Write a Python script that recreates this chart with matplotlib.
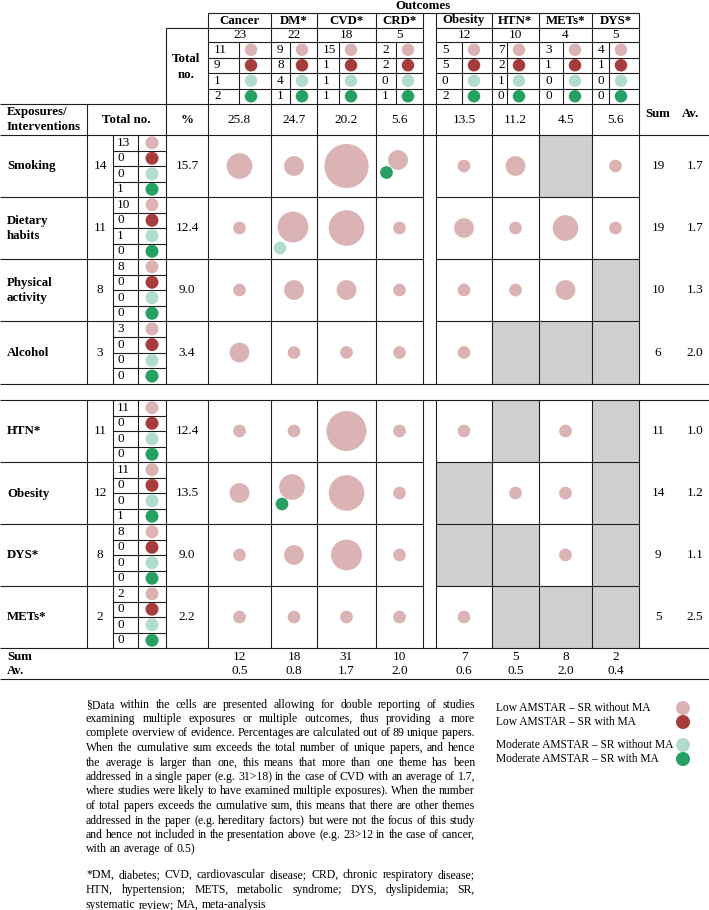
import matplotlib
matplotlib.use('Agg')
import matplotlib.pyplot as plt
from matplotlib.patches import Circle, Rectangle
import numpy as np

plt.rcParams['font.family'] = ['Liberation Serif', 'DejaVu Serif']

# ---------------- data ----------------
outcomes = ['Cancer', 'DM*', 'CVD*', 'CRD*', 'Obesity', 'HTN*', 'METs*', 'DYS*']
outcome_totals = [23, 22, 18, 5, 12, 10, 4, 5]
outcome_low_noma = [11, 9, 15, 2, 5, 7, 3, 4]
outcome_low_ma = [9, 8, 1, 2, 5, 2, 1, 1]
outcome_mod_noma = [1, 4, 1, 0, 0, 1, 0, 0]
outcome_mod_ma = [2, 1, 1, 1, 2, 0, 0, 0]
outcome_pct = ['25.8', '24.7', '20.2', '5.6', '13.5', '11.2', '4.5', '5.6']
col_sum = [12, 18, 31, 10, 7, 5, 8, 2]
col_av = ['0.5', '0.8', '1.7', '2.0', '0.6', '0.5', '2.0', '0.4']

exposures = ['Smoking', 'Dietary\nhabits', 'Physical\nactivity', 'Alcohol',
             'HTN*', 'Obesity', 'DYS*', 'METs*']
exposure_totals = [14, 11, 8, 3, 11, 12, 8, 2]
exposure_low_noma = [13, 10, 8, 3, 11, 11, 8, 2]
exposure_low_ma = [0, 0, 0, 0, 0, 0, 0, 0]
exposure_mod_noma = [0, 1, 0, 0, 0, 0, 0, 0]
exposure_mod_ma = [1, 0, 0, 0, 0, 1, 0, 0]
exposure_pct = ['15.7', '12.4', '9.0', '3.4', '12.4', '13.5', '9.0', '2.2']
row_sum = [19, 19, 10, 6, 11, 14, 9, 5]
row_av = ['1.7', '1.7', '1.3', '2.0', '1.0', '1.2', '1.1', '2.5']

N = np.nan  # not applicable (grey cell)
# counts per exposure (rows) x outcome (columns)
cell_low_noma = [
    [3, 2, 7, 2, 1, 2, N, 1],
    [1, 4, 5, 1, 2, 1, 3, 1],
    [1, 2, 2, 1, 1, 1, 2, N],
    [2, 1, 1, 1, 1, N, N, N],
    [1, 1, 6, 1, 1, N, 1, N],
    [2, 3, 5, 1, N, 1, 1, N],
    [1, 2, 4, 1, N, N, 1, N],
    [1, 1, 1, 1, 1, N, N, N],
]
cell_mod_noma = [
    [0, 0, 0, 0, 0, 0, 0, 0],
    [0, 1, 0, 0, 0, 0, 0, 0],
    [0, 0, 0, 0, 0, 0, 0, 0],
    [0, 0, 0, 0, 0, 0, 0, 0],
    [0, 0, 0, 0, 0, 0, 0, 0],
    [0, 0, 0, 0, 0, 0, 0, 0],
    [0, 0, 0, 0, 0, 0, 0, 0],
    [0, 0, 0, 0, 0, 0, 0, 0],
]
cell_mod_ma = [
    [0, 0, 0, 1, 0, 0, 0, 0],
    [0, 0, 0, 0, 0, 0, 0, 0],
    [0, 0, 0, 0, 0, 0, 0, 0],
    [0, 0, 0, 0, 0, 0, 0, 0],
    [0, 0, 0, 0, 0, 0, 0, 0],
    [0, 1, 0, 0, 0, 0, 0, 0],
    [0, 0, 0, 0, 0, 0, 0, 0],
    [0, 0, 0, 0, 0, 0, 0, 0],
]

legend_labels = ['Low AMSTAR \u2013 SR without MA', 'Low AMSTAR \u2013 SR with MA',
                 'Moderate AMSTAR \u2013 SR without MA', 'Moderate AMSTAR \u2013 SR with MA']

note1 = [
    "\u00a7Data within the cells are presented allowing for double reporting of studies",
    "examining multiple exposures or multiple outcomes, thus providing a more",
    "complete overview of evidence. Percentages are calculated out of 89 unique papers.",
    "When the cumulative sum exceeds the total number of unique papers, and hence",
    "the average is larger than one, this means that more than one theme has been",
    "addressed in a single paper (e.g. 31>18) in the case of CVD with an average of 1.7,",
    "where studies were likely to have examined multiple exposures). When the number",
    "of total papers exceeds the cumulative sum, this means that there are other themes",
    "addressed in the paper (e.g. hereditary factors) but were not the focus of this study",
    "and hence not included in the presentation above (e.g. 23>12 in the case of cancer,",
    "with an average of 0.5)",
]
note2 = [
    "*DM, diabetes; CVD, cardiovascular disease; CRD, chronic respiratory disease;",
    "HTN, hypertension; METS, metabolic syndrome; DYS, dyslipidemia; SR,",
    "systematic review; MA, meta-analysis",
]

# ---------------- style / layout ----------------
C_LOW = '#dcb3b5'
C_LOWMA = '#a63d3c'
C_MOD = '#b2dccd'
C_MODMA = '#27a163'
C_GREY = '#cfcfcf'
LC = '#1e1e1e'
LW = 0.8
dot_colors = [C_LOW, C_LOWMA, C_MOD, C_MODMA]

W, H = 709, 910
fig = plt.figure(figsize=(W / 100, H / 100), dpi=100)
ax = fig.add_axes([0, 0, 1, 1])
ax.set_xlim(0, W)
ax.set_ylim(H, 0)
ax.axis('off')

FS_B = 9.3
FS_N = 9.5

ox0 = [208, 271, 317, 376, 436, 492, 539, 592]
ox1 = [271, 317, 376, 423, 492, 539, 592, 639]
odiv = [239, 290, 339, 396, 462, 507, 563, 609]
ry0 = [135, 197, 259, 321, 400, 462, 524, 586]
ry1 = [197, 259, 321, 384, 462, 524, 586, 648]
hdr_rows = [42, 57.5, 73, 88.5, 104]
secondary_offsets = {(0, 3): ((-1.5, -6), (-13, 6.5)),
                     (1, 1): ((-1, -1), (-14, 20)),
                     (5, 1): ((-2, -6), (-12, 11))}


def hline(y, x0, x1, **kw):
    ax.plot([x0, x1], [y, y], color=LC, lw=LW, solid_capstyle='butt', **kw)


def vline(x, y0, y1, **kw):
    ax.plot([x, x], [y0, y1], color=LC, lw=LW, solid_capstyle='butt', **kw)


def txt(x, y, s, fs=FS_N, bold=False, ha='center', va='center', **kw):
    return ax.text(x, y, s, fontsize=fs, fontweight='bold' if bold else 'normal',
                   ha=ha, va=va, color='black', **kw)


def dot(x, y, d, c):
    ax.add_patch(Circle((x, y), d / 2, facecolor=c, edgecolor='none', zorder=3))


def bubble_d(n):
    return 12.7 * n ** 0.64


# grey cells
for i in range(len(exposures)):
    for j in range(len(outcomes)):
        if np.isnan(cell_low_noma[i][j]):
            ax.add_patch(Rectangle((ox0[j], ry0[i]), ox1[j] - ox0[j], ry1[i] - ry0[i],
                                   facecolor=C_GREY, edgecolor='none', zorder=0))

# ---------------- header ----------------
txt(423, 6, 'Outcomes', fs=FS_B, bold=True)
hline(13, 208, 423)
hline(13, 423, 436)
hline(13, 436, 639)
for y in [28] + hdr_rows[:-1]:
    hline(y, 208, 423)
    hline(y, 436, 639)
hline(28, 165.5, 208)
hline(104, 0, 639)
for x in ox0 + [423, 639]:
    vline(x, 13, 384)
    vline(x, 400, 648)
for x in odiv:
    vline(x, 42, 104)
vline(165.5, 28, 384)
vline(165.5, 400, 648)
txt(186.5, 59, 'Total', fs=FS_B, bold=True)
txt(186.5, 75, 'no.', fs=FS_B, bold=True)

hdr_series = [outcome_low_noma, outcome_low_ma, outcome_mod_noma, outcome_mod_ma]
for j, name in enumerate(outcomes):
    cx = (ox0[j] + ox1[j]) / 2
    txt(cx, 20.5, name, fs=FS_B, bold=True)
    txt(cx, 35, str(outcome_totals[j]))
    for k, ser in enumerate(hdr_series):
        yc = (hdr_rows[k] + hdr_rows[k + 1]) / 2
        txt(ox0[j] + 6, yc, str(ser[j]), ha='left')
        dot(odiv[j] + 12, yc, 12.5, dot_colors[k])
    txt(cx, 120, outcome_pct[j])

# exposures header row
txt(7, 112.5, 'Exposures/', fs=FS_B, bold=True, ha='left')
txt(7, 127.5, 'Interventions', fs=FS_B, bold=True, ha='left')
txt(126.5, 120, 'Total no.', fs=FS_B, bold=True)
txt(187, 120, '%', fs=FS_B, bold=True)
txt(658, 114, 'Sum', fs=FS_B, bold=True)
txt(691, 114, 'Av.', fs=FS_B, bold=True)
vline(87, 104, 384)
vline(87, 400, 648)

# full-width lines
for y in [135, 384, 400, 648, 679]:
    hline(y, 0, W)
# row separators
for y in [197, 259, 321, 462, 524, 586]:
    hline(y, 0, 423)
    hline(y, 436, 639)

# ---------------- body ----------------
exp_series = [exposure_low_noma, exposure_low_ma, exposure_mod_noma, exposure_mod_ma]
for i, name in enumerate(exposures):
    y0, y1 = ry0[i], ry1[i]
    yc = (y0 + y1) / 2
    txt(7, yc + 0.5, name, fs=FS_B, bold=True, ha='left', linespacing=1.25)
    txt(100, yc, str(exposure_totals[i]))
    vline(113, y0, y1)
    vline(138, y0, y1)
    sub = (y1 - y0) / 4
    for k, ser in enumerate(exp_series):
        sy = y0 + sub * (k + 0.5)
        if k > 0:
            hline(y0 + sub * k, 113, 165.5)
        txt(117, sy, str(ser[i]), ha='left')
        dot(152, sy, 13, dot_colors[k])
    txt(187, yc, exposure_pct[i])
    txt(658, yc, str(row_sum[i]))
    txt(695, yc, row_av[i])
    for j in range(len(outcomes)):
        v = cell_low_noma[i][j]
        if np.isnan(v):
            continue
        cx = (ox0[j] + ox1[j]) / 2
        extra = [(cell_mod_noma[i][j], C_MOD), (cell_mod_ma[i][j], C_MODMA)]
        extra = [(n, c) for n, c in extra if n > 0]
        if extra:
            (px, py), (gx, gy) = secondary_offsets.get((i, j), ((0, -5), (-12, 10)))
            dot(cx + px, yc + py, bubble_d(v), C_LOW)
            for n, c in extra:
                dot(cx + gx, yc + gy, bubble_d(n), c)
        else:
            dot(cx, yc, bubble_d(v), C_LOW)

# sum row
txt(7, 657, 'Sum', fs=FS_B, bold=True, ha='left')
txt(7, 671, 'Av.', fs=FS_B, bold=True, ha='left')
for j in range(len(outcomes)):
    cx = (ox0[j] + ox1[j]) / 2
    txt(cx, 657, str(col_sum[j]))
    txt(cx, 671, col_av[j])

# ---------------- footnotes ----------------
renderer = fig.canvas.get_renderer()
FS_F = 8.5
FS_L = 8.3


def width_of(s, fs):
    t = ax.text(0, 0, s, fontsize=fs)
    w = t.get_window_extent(renderer=renderer).width
    t.remove()
    return w


space_w = width_of('x x', FS_F) - width_of('xx', FS_F)


def justify(line, x0, x1, y, fs, last=False):
    words = line.split(' ')
    yb = float(round(y + 3.5))  # whole-pixel baseline keeps words level
    ts = [ax.text(x0, yb, w, fontsize=fs, ha='left', va='baseline') for w in words]
    ws = [t.get_window_extent(renderer=renderer).width for t in ts]
    if last or len(words) == 1:
        gap = space_w
    else:
        gap = max((x1 - x0 - sum(ws)) / (len(words) - 1), 0.45 * space_w)
    x = x0
    for t, w in zip(ts, ws):
        t.set_x(x)
        x += w + gap


FX0, FX1 = 86, 475
LS = 14.5
for k, line in enumerate(note1):
    justify(line, FX0, FX1, 704 + LS * k, FS_F, last=(k == len(note1) - 1))
for k, line in enumerate(note2):
    justify(line, FX0, FX1, 875 + LS * k, FS_F, last=(k == len(note2) - 1))

# legend
leg_y = [708, 722, 745, 759]
for lab, y, c in zip(legend_labels, leg_y, dot_colors):
    txt(496, y, lab, fs=FS_L, ha='left')
    dot(683, y, 14, c)

fig.savefig('out.png', dpi=100)
